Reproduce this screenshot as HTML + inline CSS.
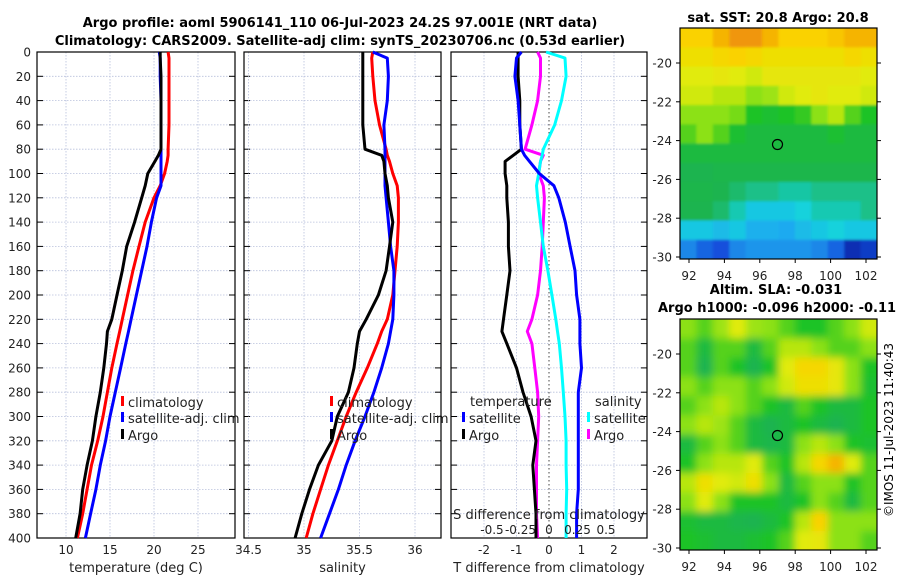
<!DOCTYPE html>
<html><head><meta charset="utf-8"><style>
body{margin:0;background:#fff;}
svg{display:block;font-family:"DejaVu Sans","Liberation Sans",sans-serif;}
</style></head><body>
<svg id="fig" width="900" height="580" viewBox="0 0 900 580" xmlns="http://www.w3.org/2000/svg">
<defs>
<filter id="blur6"><feGaussianBlur stdDeviation="4"/></filter>
<filter id="blur2"><feGaussianBlur stdDeviation="1.2"/></filter>
<clipPath id="clipSST"><rect x="680" y="28" width="197" height="231"/></clipPath>
<clipPath id="clipSLA"><rect x="680" y="319" width="197" height="231"/></clipPath>
</defs>
<text x="340" y="27" text-anchor="middle" font-size="13" font-weight="bold">Argo profile: aoml 5906141_110 06-Jul-2023 24.2S 97.001E (NRT data)</text>
<text x="340" y="45" text-anchor="middle" font-size="13" font-weight="bold">Climatology: CARS2009. Satellite-adj clim: synTS_20230706.nc (0.53d earlier)</text>
<text x="778" y="22" text-anchor="middle" font-size="13" font-weight="bold">sat. SST: 20.8 Argo: 20.8</text>
<text x="776" y="294" text-anchor="middle" font-size="13" font-weight="bold">Altim. SLA: -0.031</text>
<text x="658" y="312" font-size="13" font-weight="bold">Argo h1000: -0.096 h2000: -0.11</text>
<text transform="translate(893,430) rotate(-90)" text-anchor="middle" font-size="12">©IMOS 11-Jul-2023 11:40:43</text>
<g id="plots"></g>
</svg>
<script>
const depths=[0,5,20,40,60,80,85,90,100,110,120,140,160,180,200,220,230,240,260,280,300,320,340,360,380,400];
const tempClim=[21.6,21.7,21.7,21.7,21.7,21.6,21.6,21.5,21.2,20.7,20.0,19.0,18.3,17.6,17.0,16.4,16.1,15.8,15.2,14.7,14.2,13.6,12.9,12.4,11.9,11.3];
const tempSat=[20.6,20.7,20.7,20.8,20.8,20.8,20.8,20.8,20.8,20.8,20.3,19.7,19.2,18.6,18.0,17.4,17.1,16.8,16.2,15.6,15.0,14.5,13.9,13.4,12.8,12.2];
const tempArgo=[20.7,20.7,20.8,20.8,20.8,20.8,20.5,20.1,19.3,19.0,18.6,17.8,16.9,16.4,15.8,15.2,14.7,14.6,14.3,13.9,13.4,13.0,12.4,11.9,11.6,11.1];
const salClim=[35.62,35.61,35.62,35.64,35.68,35.74,35.75,35.77,35.80,35.84,35.85,35.85,35.84,35.82,35.80,35.75,35.70,35.66,35.57,35.47,35.38,35.30,35.22,35.15,35.08,35.02];
const salSat=[35.62,35.75,35.76,35.75,35.72,35.73,35.73,35.73,35.73,35.73,35.74,35.76,35.78,35.81,35.81,35.80,35.78,35.76,35.70,35.63,35.55,35.46,35.38,35.31,35.23,35.15];
const salArgo=[35.53,35.53,35.53,35.53,35.53,35.55,35.70,35.72,35.73,35.75,35.76,35.80,35.77,35.74,35.67,35.56,35.50,35.48,35.45,35.40,35.30,35.25,35.13,35.05,34.98,34.92];
const dTSat=[-0.85,-1.0,-1.05,-0.95,-0.9,-0.85,-0.75,-0.6,-0.3,0.15,0.3,0.5,0.65,0.8,0.85,0.95,0.95,0.95,1.0,0.9,0.9,0.9,0.9,0.9,0.85,0.85];
const dTArgo=[-0.95,-0.95,-0.95,-0.9,-0.9,-0.85,-1.1,-1.35,-1.35,-1.3,-1.3,-1.25,-1.25,-1.2,-1.3,-1.4,-1.45,-1.3,-1.0,-0.8,-0.55,-0.4,-0.5,-0.45,-0.4,-0.4];
const dSSat=[-0.025,0.14,0.15,0.11,0.05,-0.05,-0.06,-0.075,-0.09,-0.11,-0.1,-0.075,-0.05,-0.01,0.025,0.06,0.075,0.09,0.11,0.125,0.14,0.15,0.15,0.155,0.15,0.15];
const dSArgo=[-0.1,-0.075,-0.075,-0.1,-0.15,-0.21,-0.05,-0.075,-0.09,-0.05,-0.04,-0.05,-0.06,-0.075,-0.1,-0.15,-0.19,-0.15,-0.125,-0.1,-0.09,-0.1,-0.11,-0.11,-0.11,-0.1];
const depthTicks=[0,20,40,60,80,100,120,140,160,180,200,220,240,260,280,300,320,340,360,380,400];
const tempTicks=[10,15,20,25];
const salTicks=[34.5,35,35.5,36];
const dTTicks=[-2,-1,0,1,2];
const dSTicks=[-0.5,-0.25,0,0.25,0.5];
const dSTickLabels=["-0.5","-0.25","0","0.25","0.5"];
const sstGrid=[
[0.8,0.8,0.85,0.9,0.9,0.85,0.8,0.8,0.8,0.82,0.85,0.85],
[0.75,0.75,0.78,0.8,0.78,0.75,0.75,0.75,0.75,0.75,0.78,0.75],
[0.7,0.7,0.72,0.7,0.68,0.72,0.72,0.72,0.72,0.72,0.72,0.7],
[0.68,0.68,0.65,0.65,0.6,0.62,0.68,0.7,0.72,0.7,0.7,0.68],
[0.6,0.6,0.6,0.58,0.5,0.48,0.5,0.52,0.6,0.65,0.55,0.5],
[0.55,0.6,0.55,0.48,0.45,0.45,0.45,0.45,0.45,0.48,0.45,0.45],
[0.45,0.45,0.45,0.45,0.45,0.45,0.45,0.45,0.45,0.45,0.45,0.45],
[0.42,0.42,0.43,0.43,0.43,0.43,0.43,0.43,0.43,0.43,0.43,0.43],
[0.43,0.43,0.42,0.4,0.38,0.38,0.36,0.36,0.38,0.38,0.38,0.38],
[0.42,0.42,0.4,0.35,0.3,0.3,0.3,0.32,0.35,0.35,0.35,0.38],
[0.3,0.3,0.28,0.3,0.26,0.26,0.25,0.28,0.3,0.32,0.3,0.3],
[0.2,0.15,0.12,0.2,0.22,0.22,0.22,0.22,0.2,0.15,0.05,0.08]];
const slaGrid=[
[0.6,0.55,0.62,0.7,0.62,0.6,0.55,0.5,0.5,0.55,0.6,0.68],
[0.55,0.45,0.55,0.55,0.45,0.55,0.65,0.65,0.6,0.55,0.55,0.6],
[0.55,0.42,0.55,0.5,0.42,0.5,0.7,0.78,0.78,0.72,0.6,0.5],
[0.6,0.55,0.6,0.6,0.55,0.6,0.68,0.75,0.75,0.72,0.6,0.48],
[0.55,0.6,0.65,0.6,0.55,0.5,0.45,0.55,0.5,0.45,0.45,0.5],
[0.6,0.65,0.62,0.55,0.45,0.42,0.45,0.5,0.45,0.42,0.45,0.5],
[0.45,0.55,0.6,0.55,0.45,0.43,0.45,0.6,0.65,0.6,0.5,0.48],
[0.5,0.6,0.65,0.65,0.7,0.55,0.5,0.65,0.78,0.85,0.7,0.55],
[0.65,0.75,0.7,0.68,0.75,0.6,0.45,0.55,0.6,0.6,0.5,0.55],
[0.6,0.7,0.6,0.5,0.5,0.5,0.45,0.5,0.6,0.55,0.45,0.55],
[0.48,0.45,0.45,0.43,0.42,0.45,0.5,0.65,0.8,0.6,0.6,0.6],
[0.5,0.48,0.45,0.45,0.48,0.5,0.55,0.7,0.72,0.6,0.6,0.55]];
const lonTicks=[92,94,96,98,100,102];
const latTicks=[-20,-22,-24,-26,-28,-30];
const argoLon=97.0, argoLat=-24.2;

const NS="http://www.w3.org/2000/svg";
const root=document.getElementById('plots');
function el(tag,attrs,parent){const e=document.createElementNS(NS,tag);for(const k in attrs)e.setAttribute(k,attrs[k]);(parent||root).appendChild(e);return e;}
const PT=52,PB=538;
const yD=d=>PT+(d/400)*(PB-PT);
function lin(d0,d1,r0,r1){return v=>r0+(v-d0)/(d1-d0)*(r1-r0);}
const panels=[
 {x0:37,x1:235,sc:lin(10,25,66,198),ticks:tempTicks,labels:tempTicks.map(String),title:"temperature (deg C)",name:"temperature"},
 {x0:244,x1:441,sc:lin(35,36,304,415),ticks:salTicks,labels:salTicks.map(String),title:"salinity",name:"salinity"},
 {x0:451,x1:647,sc:lin(0,2,549,614),ticks:dTTicks,labels:dTTicks.map(String),title:"T difference from climatology",name:"difference"}];
panels.forEach((p,pi)=>{
 const g=el('g',{});
 
 
 depthTicks.forEach(d=>{const y=yD(d);
  el('line',{x1:p.x0,x2:p.x1,y1:y,y2:y,stroke:'#b8c0dc','stroke-width':0.8,'stroke-dasharray':'1.5,1.5'},g);
  el('line',{x1:p.x0,x2:p.x0+6,y1:y,y2:y,stroke:'#000','stroke-width':1},g);
  el('line',{x1:p.x1-6,x2:p.x1,y1:y,y2:y,stroke:'#000','stroke-width':1},g);
 });
 p.ticks.forEach((t,i)=>{const x=p.sc(t);
  if(!(pi==2&&t==0)) el('line',{x1:x,x2:x,y1:PT,y2:PB,stroke:'#b8c0dc','stroke-width':0.8,'stroke-dasharray':'1.5,1.5'},g);
  const tl=el('text',{x:x,y:PB+16,'text-anchor':'middle','font-size':12,fill:'#222'},g);tl.textContent=p.labels[i];
  
  
 });
 const at=el('text',{x:(p.x0+p.x1)/2,y:572,'text-anchor':'middle','font-size':13,fill:'#222'},g);at.textContent=p.title;
 
 
 const fr=el('rect',{x:p.x0,y:PT,width:p.x1-p.x0,height:PB-PT,fill:'none',stroke:'#000','stroke-width':1.2},g);
 
 
});
depthTicks.forEach(d=>{const t=el('text',{x:31,y:yD(d)+4.5,'text-anchor':'end','font-size':12,fill:'#222'});t.textContent=d;
 
 });
function line(vals,sc,color,name){
 const pts=vals.map((v,i)=>sc(v).toFixed(1)+','+yD(depths[i]).toFixed(1)).join(' ');
 const l=el('polyline',{points:pts,fill:'none',stroke:color,'stroke-width':3,'stroke-linejoin':'round'});
 
 
}
const sT=panels[0].sc,sS=panels[1].sc,sD=panels[2].sc,sDS=lin(0,0.5,549,606);
const zl=el('line',{x1:sD(0),x2:sD(0),y1:PT,y2:PB,stroke:'#444','stroke-width':1,'stroke-dasharray':'1.5,2.5'});


line(tempClim,sT,'#ff0000','temp-climatology-line');
line(tempSat,sT,'#0000ff','temp-satellite-line');
line(tempArgo,sT,'#000000','temp-argo-line');
line(salClim,sS,'#ff0000','sal-climatology-line');
line(salSat,sS,'#0000ff','sal-satellite-line');
line(salArgo,sS,'#000000','sal-argo-line');
line(dSArgo,sDS,'#ff00ff','sdiff-argo-line');
line(dSSat,sDS,'#00ffff','sdiff-satellite-line');
line(dTArgo,sD,'#000000','tdiff-argo-line');
line(dTSat,sD,'#0000ff','tdiff-satellite-line');
const st=el('text',{x:549,y:519,'text-anchor':'middle','font-size':13,fill:'#222'});st.textContent='S difference from climatology';


dSTicks.forEach((t,i)=>{const tx=el('text',{x:sDS(t),y:534,'text-anchor':'middle','font-size':12,fill:'#222'});tx.textContent=dSTickLabels[i];
 
 });
function legend(x,y,color,label,name){
 const g=el('g',{});
 
 
 el('rect',{x:x,y:y-11,width:3,height:10,fill:color},g);
 const t=el('text',{x:x+7,y:y,'font-size':13,fill:'#222'},g);t.textContent=label;
}
legend(121,407,'#ff0000','climatology','legend-temp-climatology');
legend(121,423,'#0000ff','satellite-adj. clim','legend-temp-satellite');
legend(121,440,'#000000','Argo','legend-temp-argo');
legend(330,407,'#ff0000','climatology','legend-sal-climatology');
legend(330,423,'#0000ff','satellite-adj. clim','legend-sal-satellite');
legend(330,440,'#000000','Argo','legend-sal-argo');
const lt=el('text',{x:470,y:406,'font-size':13,fill:'#222'});lt.textContent='temperature';


legend(462,423,'#0000ff','satellite','legend-tdiff-satellite');
legend(462,440,'#000000','Argo','legend-tdiff-argo');
const ls=el('text',{x:595,y:406,'font-size':13,fill:'#222'});ls.textContent='salinity';


legend(587,423,'#00ffff','satellite','legend-sdiff-satellite');
legend(587,440,'#ff00ff','Argo','legend-sdiff-argo');

const cstops=[[0,[10,20,150]],[0.12,[20,80,220]],[0.25,[30,170,240]],[0.32,[20,210,220]],[0.42,[30,180,80]],[0.5,[30,195,40]],[0.6,[140,225,20]],[0.7,[225,235,10]],[0.8,[250,210,0]],[0.9,[240,150,10]],[1,[220,90,10]]];
function cmap(v){for(let i=1;i<cstops.length;i++){if(v<=cstops[i][0]){const a=cstops[i-1],b=cstops[i];const f=(v-a[0])/(b[0]-a[0]);const c=a[1].map((x,j)=>Math.round(x+(b[1][j]-x)*f));return `rgb(${c})`;}}return 'rgb(220,90,10)';}
function drawMap(grid,top,bot,lat20y,lat30y,clip,blur,name){
 const L=680,R=877,xL=lin(92,102,689,866),yL=lin(-20,-30,lat20y,lat30y);
 const g=el('g',{'clip-path':`url(#${clip})`});
 
 
 const gi=el('g',{filter:`url(#${blur})`},g);
 const nr=grid.length,nc=grid[0].length,cw=(R-L)/nc,ch=(bot-top)/nr;
 grid.forEach((row,r)=>row.forEach((v,c)=>{
  const cell=el('rect',{x:(L+c*cw-8*(c==0)).toFixed(1),y:(top+r*ch-8*(r==0)).toFixed(1),width:(cw+0.8+8*(c==0||c==nc-1)).toFixed(1),height:(ch+0.8+8*(r==0||r==nr-1)).toFixed(1),fill:cmap(v)},gi);
  
  
 }));
 const fr=el('rect',{x:L,y:top,width:R-L,height:bot-top,fill:'none',stroke:'#000','stroke-width':1.2});
 
 
 lonTicks.forEach(t=>{const x=xL(t);el('line',{x1:x,x2:x,y1:bot,y2:bot+4,stroke:'#000'});
  const tx=el('text',{x:x,y:bot+21,'text-anchor':'middle','font-size':12,fill:'#222'});tx.textContent=t;
  
  });
 latTicks.forEach(t=>{const y=yL(t);el('line',{x1:L-4,x2:L,y1:y,y2:y,stroke:'#000'});el('line',{x1:R,x2:R+4,y1:y,y2:y,stroke:'#000'});
  const tx=el('text',{x:L-8,y:y+4.5,'text-anchor':'end','font-size':12,fill:'#222'});tx.textContent=t;
  
  });
 const m=el('circle',{cx:xL(argoLon),cy:yL(argoLat),r:5,fill:'none',stroke:'#000','stroke-width':1.2});
 
 
}
drawMap(sstGrid,28,259,63,257,'clipSST','blur2','sst-map');
drawMap(slaGrid,319,550,354,548,'clipSLA','blur6','sla-map');
</script>
</body></html>
